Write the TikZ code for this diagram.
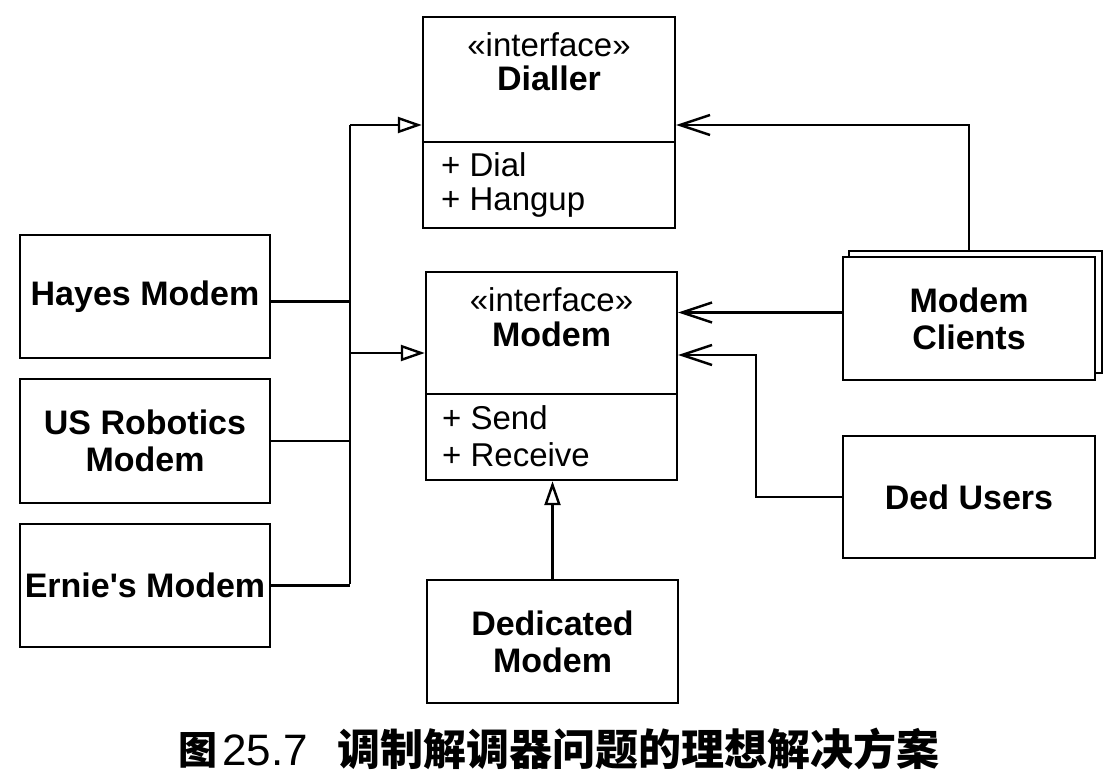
\documentclass[tikz,border=0pt]{standalone}
\usepackage{fontspec}
\newfontfamily\arial{Liberation Sans}
\newfontfamily\cjk{Noto Sans CJK SC}
\usetikzlibrary{arrows.meta,calc}
\begin{document}
\begin{tikzpicture}[x=1pt,y=-1pt,line width=2.4pt,
  box/.style={draw, line width=2.4pt, fill=white, inner sep=0pt, align=center,
    font=\arial\fontsize{34}{37}\selectfont\bfseries},
  stereo/.style={anchor=base, inner sep=0pt, font=\arial\fontsize{33}{37}\selectfont},
  cname/.style={anchor=base, inner sep=0pt, font=\arial\fontsize{34}{37}\selectfont\bfseries},
  oper/.style={anchor=base west, inner sep=0pt, font=\arial\fontsize{33}{37}\selectfont},
  gen/.style={-{Triangle[open,length=24pt,width=16pt]}},
  nav/.style={-{Straight Barb[length=30pt,width=20pt]}},
  captext/.style={anchor=base west, inner sep=0pt}]
\useasboundingbox[fill=white] (0,0) rectangle (1120,773);

% left boxes
\node[box, minimum width=250pt, minimum height=123pt] (hayes) at (145,296.5) {Hayes Modem};
\node[box, minimum width=250pt, minimum height=124pt] (usr) at (145,441) {US Robotics\\Modem};
\node[box, minimum width=250pt, minimum height=123pt] (ernie) at (145,585.5) {Ernie's Modem};

% interface Dialler
\node[box, minimum width=252pt, minimum height=211pt] (dialler) at (549,122.5) {};
\draw (dialler.west |- 0,142) -- (dialler.east |- 0,142);
\node[stereo] (dst) at (549,57) {«interface»};
\node[cname] (dnm) at (549,91) {Dialler};
\node[oper] (dop1) at (440,177) {+ Dial};
\node[oper] (dop2) at (440,211) {+ Hangup};

% interface Modem
\node[box, minimum width=251pt, minimum height=208pt] (modem) at (551.5,376) {};
\draw (modem.west |- 0,394) -- (modem.east |- 0,394);
\node[stereo] (mst) at (551.5,311) {«interface»};
\node[cname] (mnm) at (551.5,346) {Modem};
\node[oper] (mop1) at (441,429) {+ Send};
\node[oper] (mop2) at (441,466) {+ Receive};

% Dedicated Modem
\node[box, minimum width=251pt, minimum height=123pt] (dedicated) at (552.5,641.5) {Dedicated\\Modem};

% Modem Clients (stacked)
\node[box, minimum width=253pt, minimum height=122pt] (clientsback) at (975.5,312) {};
\node[box, minimum width=252pt, minimum height=123pt] (clients) at (969,318.5) {Modem\\Clients};

% Ded Users
\node[box, minimum width=252pt, minimum height=122pt] (dedusers) at (969,497) {Ded Users};

% bus of implementations
\coordinate (J1) at (350,125);
\coordinate (J2) at (350,584);
\coordinate (J3) at (350,353);
\draw (J1) -- (J2);
\draw ([yshift=-5pt]hayes.east) -- ([yshift=-5pt]hayes.east -| J1);
\draw (usr.east) -- (usr.east -| J1);
\draw (ernie.east) -- (ernie.east -| J1);
\draw[gen] (J1) -- (J1 -| dialler.west);
\draw[gen] (J3) -- (J3 -| modem.west);
\draw[gen] (dedicated.north) -- (dedicated.north |- modem.south);

% navigable associations
\coordinate (T) at (clients.north |- clientsback.north);
\draw[nav] (T) |- (J1 -| dialler.east);
\draw[nav] ([yshift=6pt]clients.west) -- ([yshift=6pt]clients.west -| modem.east);
\coordinate (K) at (756,355);
\draw[nav] (dedusers.west) -| (K) -- (K -| modem.east);

% caption
\node[captext, font=\cjk\bfseries\fontsize{39}{39}\selectfont] (fig) at (177,764) {图};
\node[captext, font=\arial\fontsize{44}{44}\selectfont] (num) at (221,765) {25.7};
\node[captext, font=\cjk\bfseries\fontsize{43}{43}\selectfont] (title) at (336,765) {调制解调器问题的理想解决方案};
\end{tikzpicture}
\end{document}
